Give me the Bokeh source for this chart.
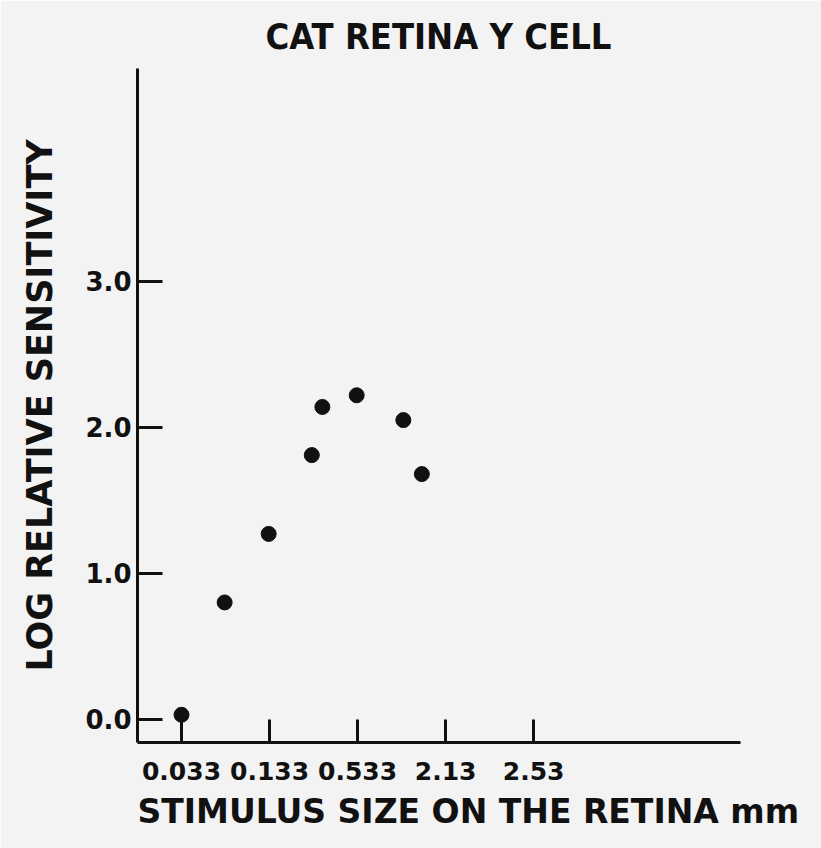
from bokeh.plotting import figure
from bokeh.models import FixedTicker, Range1d, Title
from bokeh.embed import file_html
from bokeh.resources import INLINE

# Data (x in tick-index units along the stimulus-size axis)
tick_positions = [0, 1, 2, 3, 4]
tick_labels = ["0.033", "0.133", "0.533", "2.13", "2.53"]
x_pos = [0.0, 0.49, 0.99, 1.48, 1.60, 1.99, 2.52, 2.73]
log_sens = [0.03, 0.80, 1.27, 1.81, 2.14, 2.22, 2.05, 1.68]
y_ticks = [0.0, 1.0, 2.0, 3.0]

BG = "#f3f3f3"
INK = "#111111"
LBL_FONT = "DejaVu Sans"

p = figure(width=821, height=848, output_backend="svg", toolbar_location=None,
           x_range=Range1d(-0.5, 6.35), y_range=Range1d(-0.16, 4.46),
           min_border_left=137, min_border_right=81, min_border_top=68,
           min_border_bottom=106)
p.background_fill_color = BG
p.border_fill_color = BG
p.outline_line_color = None
p.xgrid.visible = False
p.ygrid.visible = False

p.title.text = "CAT RETINA Y CELL"
p.title.align = "left"
p.title.offset = 128
p.title.text_font = "DejaVu Sans Condensed"
p.title.text_font_size = "36px"
p.title.text_font_style = "bold"
p.title.text_color = INK
p.title.standoff = 24

for ax in (p.xaxis[0], p.yaxis[0]):
    ax.axis_line_width = 3
    ax.axis_line_color = INK
    ax.major_tick_line_width = 3
    ax.major_tick_line_color = INK
    ax.major_tick_out = 0
    ax.minor_tick_line_color = None
    ax.major_label_text_font = LBL_FONT
    ax.major_label_text_font_style = "bold"
    ax.major_label_text_color = INK
    ax.axis_label_text_font = LBL_FONT
    ax.axis_label_text_font_style = "bold"
    ax.axis_label_text_color = INK

xa = p.xaxis[0]
xa.ticker = FixedTicker(ticks=tick_positions)
xa.major_label_overrides = {t: l for t, l in zip(tick_positions, tick_labels)}
xa.major_tick_in = 23
xa.major_label_text_font_size = "25px"
xa.major_label_standoff = 19

ya = p.yaxis[0]
ya.ticker = FixedTicker(ticks=y_ticks)
ya.major_label_overrides = {t: f"{t:.1f}" for t in y_ticks}
ya.major_tick_in = 25
ya.major_label_text_font_size = "26px"
ya.major_label_standoff = 6
ya.major_label_orientation = "horizontal"
ya.axis_label = "LOG RELATIVE SENSITIVITY"
ya.axis_label_text_font_size = "35px"
ya.axis_label_standoff = 22

p.scatter(x_pos, log_sens, size=15, color=INK, line_color=INK)

xlabel = Title(text="STIMULUS SIZE ON THE RETINA mm", align="left",
               offset=0, standoff=15, text_font=LBL_FONT, text_font_style="bold",
               text_font_size="33px", text_color=INK)
p.add_layout(xlabel, "below")

open("out.html", "w").write(file_html(p, INLINE))
